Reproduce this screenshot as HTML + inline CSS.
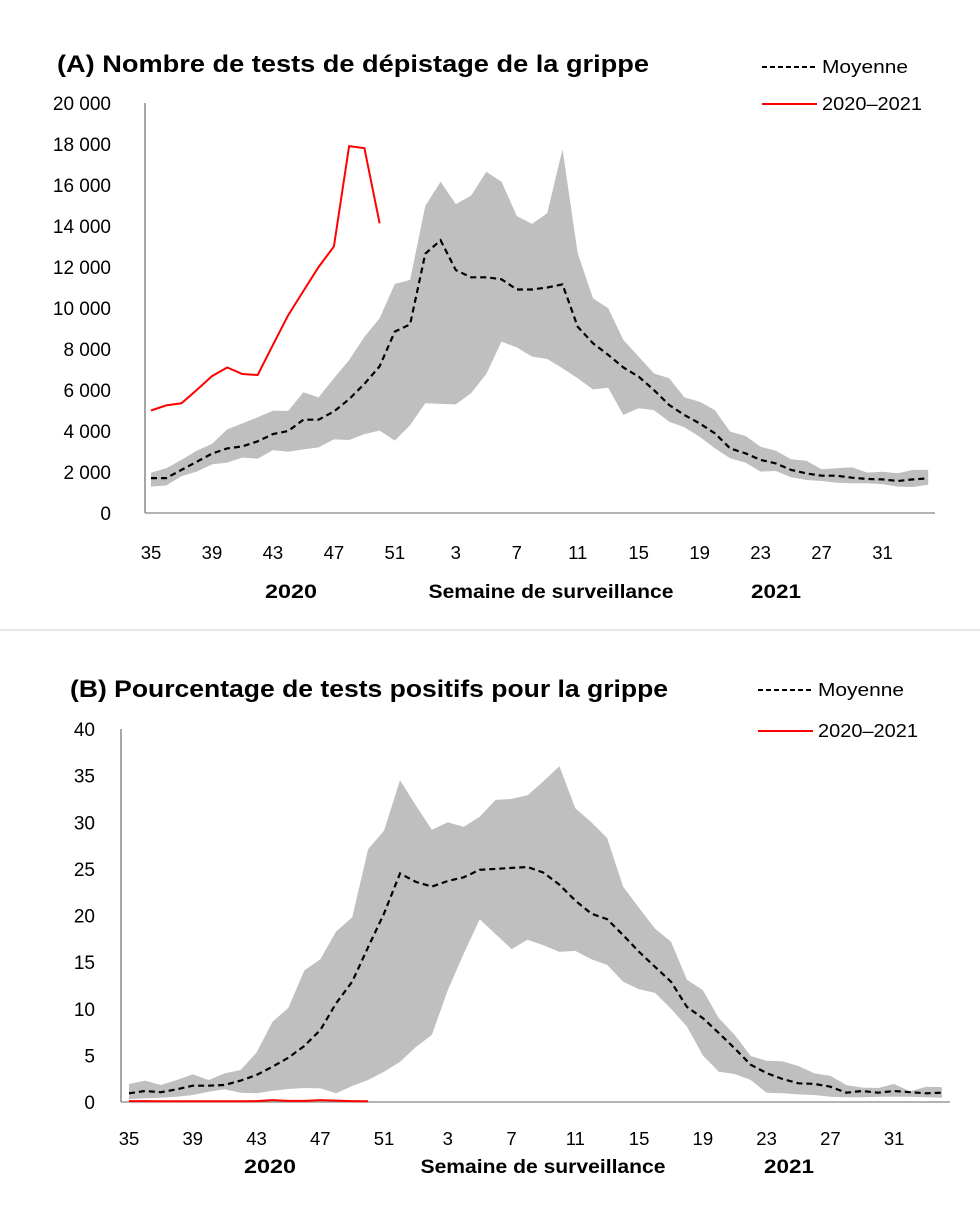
<!DOCTYPE html>
<html><head><meta charset="utf-8"><style>
body{margin:0;background:#fff;font-family:"Liberation Sans",sans-serif;}
svg{display:block}
</style></head><body>
<svg id="svg" width="980" height="1206"></svg>
<script>
const NS="http://www.w3.org/2000/svg";
const weeks=[35,36,37,38,39,40,41,42,43,44,45,46,47,48,49,50,51,52,1,2,3,4,5,6,7,8,9,10,11,12,13,14,15,16,17,18,19,20,21,22,23,24,25,26,27,28,29,30,31,32,33,34];
const tickWeeks=[35,39,43,47,51,3,7,11,15,19,23,27,31];
const aTicks=[0,2000,4000,6000,8000,10000,12000,14000,16000,18000,20000];
const aMean=[1700,1700,2100,2500,2900,3150,3250,3500,3850,4000,4550,4550,4950,5550,6300,7150,8850,9200,12650,13300,11850,11500,11500,11400,10900,10900,11000,11150,9090,8280,7710,7100,6650,6000,5270,4780,4370,3890,3150,2910,2590,2420,2100,1930,1820,1820,1720,1660,1640,1560,1640,1690];
const aUpper=[1970,2180,2590,3040,3370,4080,4370,4670,4990,4980,5890,5640,6570,7460,8600,9500,11170,11370,14980,16160,15070,15480,16650,16160,14490,14100,14620,17740,12670,10470,9990,8440,7630,6810,6570,5640,5430,5020,3970,3760,3230,3040,2620,2550,2130,2180,2230,1970,2010,1940,2100,2100];
const aLower=[1290,1340,1800,2020,2370,2460,2700,2650,3070,2990,3100,3200,3590,3560,3850,4020,3530,4290,5350,5320,5300,5840,6780,8360,8080,7630,7510,7060,6570,6030,6110,4780,5110,5020,4450,4180,3720,3150,2670,2460,2020,2050,1740,1610,1560,1480,1450,1450,1410,1290,1270,1380];
const aCurrent=[5000,5250,5350,6000,6680,7100,6780,6730,8200,9650,10830,12000,13000,17900,17800,14130];
const bTicks=[0,5,10,15,20,25,30,35,40];
const bMean=[0.93,1.18,1.05,1.36,1.75,1.75,1.82,2.29,2.9,3.79,4.75,6.0,7.72,10.6,12.9,16.6,20.2,24.5,23.6,23.1,23.7,24.1,24.9,25.0,25.1,25.2,24.6,23.3,21.6,20.2,19.6,17.9,16.1,14.5,12.9,10.2,9.0,7.4,5.75,4.0,3.1,2.47,2.0,1.94,1.64,1.0,1.18,1.0,1.18,1.05,0.93,1.0];
const bUpper=[1.93,2.29,1.82,2.36,2.96,2.36,3.07,3.43,5.3,8.6,10.1,14.1,15.3,18.3,19.8,27.1,29.1,34.5,31.8,29.2,30.0,29.5,30.6,32.4,32.5,32.9,34.4,36.0,31.5,30.0,28.3,23.1,20.8,18.6,17.2,13.1,12.0,9.0,7.2,4.93,4.43,4.36,3.86,3.07,2.8,1.82,1.54,1.5,1.93,1.14,1.64,1.6];
const bLower=[0.29,0.4,0.46,0.57,0.75,1.1,1.36,1.0,0.93,1.2,1.39,1.5,1.46,0.93,1.72,2.36,3.25,4.3,5.9,7.2,12.0,15.9,19.6,18.0,16.4,17.4,16.8,16.1,16.2,15.3,14.7,12.9,12.1,11.7,10.0,8.1,5.0,3.25,3.0,2.36,1.0,0.93,0.82,0.75,0.57,0.5,0.5,0.57,0.57,0.57,0.5,0.46];
const bCurrent=[0.1,0.1,0.08,0.08,0.08,0.08,0.08,0.08,0.1,0.2,0.12,0.12,0.2,0.15,0.1,0.08];

const svg=document.getElementById('svg');
function el(tag,attrs,parent){const e=document.createElementNS(NS,tag);for(const k in attrs)e.setAttribute(k,attrs[k]);(parent||svg).appendChild(e);return e;}
function txt(s,attrs,parent){const t=el('text',attrs,parent);t.textContent=s;return t;}

function chart(cfg){
  const g=el('g',{});
  
  
  const X=i=>cfg.x0+i*cfg.dx;
  const Y=v=>cfg.y0-(v-0)/cfg.ymax*(cfg.y0-cfg.ytop);
  let d='';
  cfg.upper.forEach((v,i)=>{d+=(i?'L':'M')+X(i).toFixed(1)+','+Y(v).toFixed(1);});
  for(let i=cfg.lower.length-1;i>=0;i--)d+='L'+X(i).toFixed(1)+','+Y(cfg.lower[i]).toFixed(1);
  const band=el('path',{d:d+'Z',fill:'#bfbfbf'},g);
  
  
  const ya=el('line',{x1:cfg.ax,y1:cfg.ytop,x2:cfg.ax,y2:cfg.y0,stroke:'#777','stroke-width':1.3},g);
  
  
  const xa=el('line',{x1:cfg.ax,y1:cfg.y0,x2:cfg.axEnd,y2:cfg.y0,stroke:'#888','stroke-width':1.3},g);
  
  
  const pm=cfg.mean.map((v,i)=>X(i).toFixed(1)+','+Y(v).toFixed(1)).join(' ');
  const ml=el('polyline',{points:pm,fill:'none',stroke:'#000','stroke-width':2.2,'stroke-dasharray':'6,4'},g);
  
  
  const pc=cfg.cur.map((v,i)=>X(i).toFixed(1)+','+Y(v).toFixed(1)).join(' ');
  const cl=el('polyline',{points:pc,fill:'none',stroke:'#ff0000','stroke-width':2},g);
  
  
  cfg.ticks.forEach(v=>{
    const t=txt(cfg.fmt(v),{x:cfg.ylx,y:Y(v)+7,'text-anchor':'end','font-size':19,fill:'#000'},g);
    
    
  });
  tickWeeks.forEach(w=>{
    const i=weeks.indexOf(w);
    const t=txt(String(w),{x:X(i),y:cfg.xly,'text-anchor':'middle','font-size':18.5,fill:'#000'},g);
    
    
  });
}
const fmtA=v=>v===0?'0':(Math.floor(v/1000)+' 000');
chart({name:'chart-a-tests',x0:151,dx:15.24,y0:513,ytop:103,ymax:20000,ax:145,axEnd:935,upper:aUpper,lower:aLower,mean:aMean,cur:aCurrent,ticks:aTicks,fmt:fmtA,ylx:111,xly:559});
chart({name:'chart-b-positivity',x0:129,dx:15.94,y0:1102,ytop:729,ymax:40,ax:121,axEnd:950,upper:bUpper,lower:bLower,mean:bMean,cur:bCurrent,ticks:bTicks,fmt:v=>String(v),ylx:95,xly:1145});

function label(s,a,name){const t=txt(s,a);}
label('(A) Nombre de tests de dépistage de la grippe',{x:57,y:72,'font-size':24,'font-weight':'bold',textLength:592,lengthAdjust:'spacingAndGlyphs'},'chart-a-title');
label('(B) Pourcentage de tests positifs pour la grippe',{x:70,y:697,'font-size':24,'font-weight':'bold',textLength:598,lengthAdjust:'spacingAndGlyphs'},'chart-b-title');
label('2020',{x:291,y:598,'font-size':19,'font-weight':'bold','text-anchor':'middle',textLength:52,lengthAdjust:'spacingAndGlyphs'},'year-2020-a');
label('Semaine de surveillance',{x:551,y:598,'font-size':19,'font-weight':'bold','text-anchor':'middle',textLength:245,lengthAdjust:'spacingAndGlyphs'},'x-axis-title-a');
label('2021',{x:776,y:598,'font-size':19,'font-weight':'bold','text-anchor':'middle',textLength:50,lengthAdjust:'spacingAndGlyphs'},'year-2021-a');
label('2020',{x:270,y:1173,'font-size':19,'font-weight':'bold','text-anchor':'middle',textLength:52,lengthAdjust:'spacingAndGlyphs'},'year-2020-b');
label('Semaine de surveillance',{x:543,y:1173,'font-size':19,'font-weight':'bold','text-anchor':'middle',textLength:245,lengthAdjust:'spacingAndGlyphs'},'x-axis-title-b');
label('2021',{x:789,y:1173,'font-size':19,'font-weight':'bold','text-anchor':'middle',textLength:50,lengthAdjust:'spacingAndGlyphs'},'year-2021-b');
const sep=el('line',{x1:0,y1:630,x2:980,y2:630,stroke:'#ccc','stroke-width':1});


function legend(x,y1,y2,suffix){
  const a=el('line',{x1:x,y1:y1,x2:x+55,y2:y1,stroke:'#000','stroke-width':2,'stroke-dasharray':'5,3'});
  
  
  label('Moyenne',{x:x+60,y:y1+6,'font-size':18.5,textLength:86,lengthAdjust:'spacingAndGlyphs'},'legend-mean-'+suffix);
  const b=el('line',{x1:x,y1:y2,x2:x+55,y2:y2,stroke:'#ff0000','stroke-width':2});
  
  
  label('2020–2021',{x:x+60,y:y2+6,'font-size':18.5,textLength:100,lengthAdjust:'spacingAndGlyphs'},'legend-current-'+suffix);
}
legend(762,67,104,'a');
legend(758,690,731,'b');
</script>
</body></html>
